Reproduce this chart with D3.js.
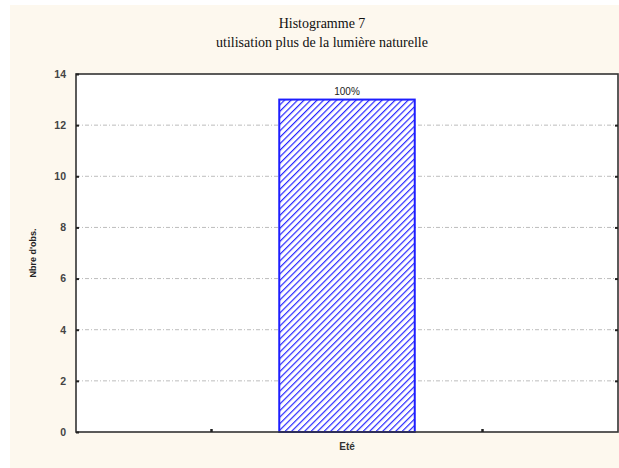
<!DOCTYPE html>
<html><head><meta charset="utf-8">
<script src="https://cdn.jsdelivr.net/npm/d3@7"></script>
<style>body{margin:0;background:#fff}</style>
</head><body><svg id="c" width="619" height="468"></svg>
<script>
const categories = ["Eté"];
const counts = [13];
const barLabels = ["100%"];
const yTicks = [0, 2, 4, 6, 8, 10, 12, 14];
const titleLines = ["Histogramme 7", "utilisation plus de la lumière naturelle"];
const yTitle = "Nbre d'obs.";

const svg = d3.select("#c");
const m = {left: 76, right: 618, top: 74, bottom: 432};
svg.append("rect").attr("x", 10).attr("y", 5).attr("width", 609).attr("height", 463).attr("fill", "#fdf8ee");

const defs = svg.append("defs");
const pat = defs.append("pattern").attr("id", "hatch").attr("patternUnits", "userSpaceOnUse")
  .attr("width", 4.6).attr("height", 4.6).attr("patternTransform", "rotate(45)");
pat.append("rect").attr("width", 4.6).attr("height", 4.6).attr("fill", "#fff");
pat.append("line").attr("x1", 0).attr("y1", 0).attr("x2", 0).attr("y2", 4.6).attr("stroke", "#2626ff").attr("stroke-width", 2.4);

const x = d3.scaleBand().domain(categories).range([m.left, m.right]).paddingInner(0.5).paddingOuter(0.75);
const y = d3.scaleLinear().domain([0, 14]).range([m.bottom, m.top]);

svg.append("rect").attr("x", m.left).attr("y", m.top).attr("width", m.right - m.left).attr("height", m.bottom - m.top).attr("fill", "#fff");

// grid
svg.append("g").selectAll("line").data(yTicks.filter(d => d > 0 && d < 14)).join("line")
  .attr("x1", m.left).attr("x2", m.right).attr("y1", d => y(d)).attr("y2", d => y(d))
  .attr("stroke", "#bdbdbd").attr("stroke-width", 1).attr("stroke-dasharray", "4,2,1,2");

// bars
svg.append("g").selectAll("rect").data(counts).join("rect")
  .attr("x", (d, i) => x(categories[i])).attr("width", x.bandwidth())
  .attr("y", d => y(d)).attr("height", d => y(0) - y(d))
  .attr("fill", "url(#hatch)").attr("stroke", "#1e1eff").attr("stroke-width", 2);

svg.append("g").selectAll("text").data(counts).join("text")
  .attr("x", (d, i) => x(categories[i]) + x.bandwidth() / 2).attr("y", d => y(d) - 5)
  .attr("text-anchor", "middle").attr("font-family", "Liberation Sans, Arial").attr("font-size", 10).attr("fill", "#222")
  .text((d, i) => barLabels[i]);

// frame
svg.append("rect").attr("x", m.left).attr("y", m.top).attr("width", m.right - m.left).attr("height", m.bottom - m.top)
  .attr("fill", "none").attr("stroke", "#333").attr("stroke-width", 1.6);

// y axis ticks inside
const yAxisL = d3.axisLeft(y).tickValues(yTicks).tickSize(-3).tickPadding(10).tickFormat(d3.format("d"));
const gL = svg.append("g").attr("transform", `translate(${m.left},0)`).call(yAxisL);
gL.select(".domain").remove();
gL.selectAll("line").attr("stroke", "#222").attr("stroke-width", 2);
gL.selectAll("text").attr("font-family", "Liberation Sans, Arial").attr("font-weight", "bold").attr("font-size", 10.5).attr("fill", "#444");
const yAxisR = d3.axisRight(y).tickValues(yTicks.filter(d => d > 0 && d < 14)).tickSize(-3).tickFormat("");
const gR = svg.append("g").attr("transform", `translate(${m.right},0)`).call(yAxisR);
gR.select(".domain").remove();
gR.selectAll("line").attr("stroke", "#222").attr("stroke-width", 2);

// x axis
const bounds = [x(categories[0]) - x.step() * x.paddingInner() / 2, x(categories[0]) + x.bandwidth() + x.step() * x.paddingInner() / 2];
svg.append("g").selectAll("line").data(bounds).join("line")
  .attr("x1", d => d).attr("x2", d => d).attr("y1", m.bottom).attr("y2", m.bottom - 3)
  .attr("stroke", "#222").attr("stroke-width", 2.5);
svg.append("g").selectAll("text").data(categories).join("text")
  .attr("x", d => x(d) + x.bandwidth() / 2).attr("y", m.bottom + 18).attr("text-anchor", "middle")
  .attr("font-family", "Liberation Sans, Arial").attr("font-weight", "bold").attr("font-size", 10).attr("fill", "#333")
  .text(d => d);

// y title
svg.append("text").attr("transform", `translate(36,${(m.top + m.bottom) / 2}) rotate(-90)`)
  .attr("text-anchor", "middle").attr("font-family", "Liberation Sans, Arial").attr("font-weight", "bold")
  .attr("font-size", 9).attr("fill", "#222").text(yTitle);

// title
svg.append("g").selectAll("text").data(titleLines).join("text")
  .attr("x", 322).attr("y", (d, i) => 28 + i * 19).attr("text-anchor", "middle")
  .attr("font-family", "Liberation Serif, Times New Roman").attr("font-size", 14).attr("fill", "#111")
  .text(d => d);
</script></body></html>
